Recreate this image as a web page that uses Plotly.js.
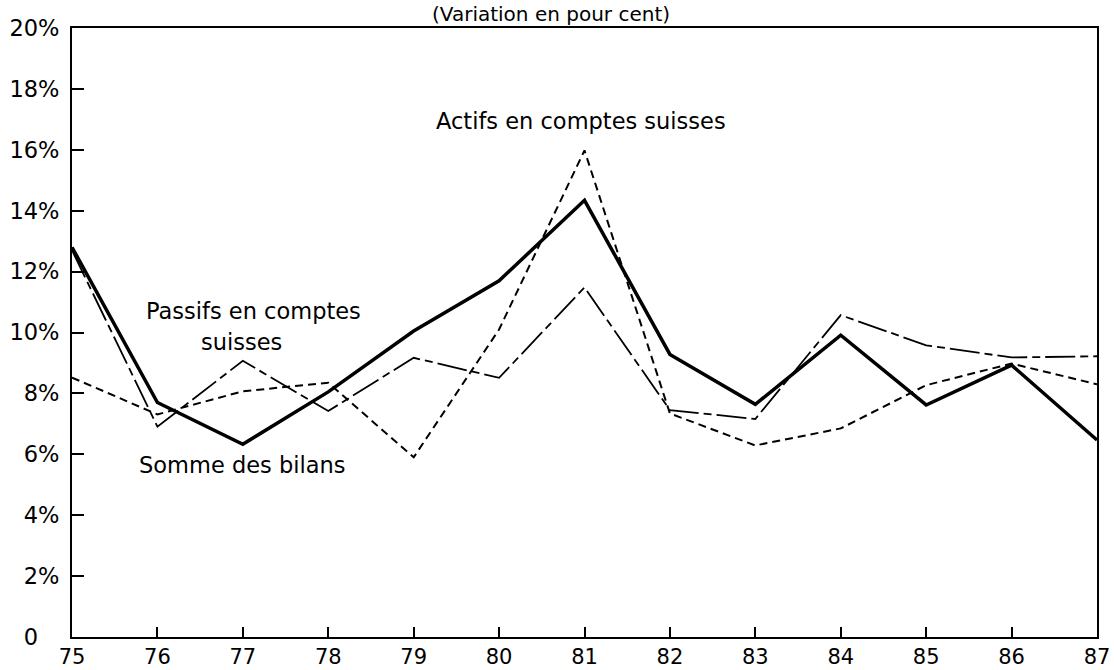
<!DOCTYPE html>
<html>
<head>
<meta charset="utf-8">
<script src="https://cdn.plot.ly/plotly-3.0.1.min.js"></script>
<style>
html,body{margin:0;padding:0;background:#fff;}
#chart{width:1114px;height:670px;}
</style>
</head>
<body>
<div id="chart"></div>
<script>
const years = [75, 76, 77, 78, 79, 80, 81, 82, 83, 84, 85, 86, 87];
const yearLabels = ["75","76","77","78","79","80","81","82","83","84","85","86","87"];
const sommeBilans = [12.8, 7.7, 6.33, 8.05, 10.05, 11.7, 14.34, 9.28, 7.64, 9.91, 7.62, 8.93, 6.47];
const actifsSuisses = [8.52, 7.31, 8.07, 8.35, 5.9, 10.1, 15.98, 7.34, 6.29, 6.85, 8.27, 8.98, 8.3];
const passifsSuisses = [12.7, 6.91, 9.07, 7.42, 9.17, 8.51, 11.48, 7.45, 7.16, 10.57, 9.58, 9.18, 9.22];
const yTickVals = [0, 2, 4, 6, 8, 10, 12, 14, 16, 18, 20];
const yTickText = ["0<span style='color:rgba(0,0,0,0)'>%</span>", "2%", "4%", "6%", "8%", "10%", "12%", "14%", "16%", "18%", "20%"];

const font = "DejaVu Sans, sans-serif";
const fs = 22.5;

const traces = [
  {x: years, y: passifsSuisses, type: "scatter", mode: "lines", name: "Passifs en comptes suisses",
   line: {color: "#000", width: 1.8, dash: "30px,5px,8px,5px"}},
  {x: years, y: actifsSuisses, type: "scatter", mode: "lines", name: "Actifs en comptes suisses",
   line: {color: "#000", width: 2, dash: "8px,5px"}},
  {x: years, y: sommeBilans, type: "scatter", mode: "lines", name: "Somme des bilans",
   line: {color: "#000", width: 3.5}}
];

function note(x, y, text, ref, size) {
  return {xref: ref || "x", yref: ref || "y", x: x, y: y, text: text, showarrow: false,
          font: {family: font, size: size || fs, color: "#000"}, xanchor: "center", yanchor: "middle"};
}

const layout = {
  width: 1114, height: 670,
  margin: {l: 72, r: 17, t: 28, b: 33},
  paper_bgcolor: "#fff", plot_bgcolor: "#fff",
  showlegend: false,
  font: {family: font, color: "#000", size: fs},
  xaxis: {
    range: [75, 87], tickmode: "array", tickvals: years, ticktext: yearLabels,
    ticks: "inside", ticklen: 10, tickwidth: 2, tickcolor: "#000",
    showline: true, linewidth: 2, linecolor: "#000", mirror: true,
    showgrid: false, zeroline: false, ticklabelstandoff: 0,
    tickfont: {family: font, size: 21, color: "#000"}
  },
  yaxis: {
    range: [0, 20], tickmode: "array", tickvals: yTickVals, ticktext: yTickText,
    ticks: "inside", ticklen: 12, tickwidth: 2, tickcolor: "#000",
    showline: true, linewidth: 2, linecolor: "#000", mirror: true,
    showgrid: false, zeroline: false, ticklabelstandoff: 6,
    tickfont: {family: font, size: fs, color: "#000"}
  },
  annotations: [
    note(0.467, 1.0225, "(Variation en pour cent)", "paper", 20),
    note(80.96, 16.95, "Actifs en comptes suisses"),
    note(77.13, 10.69, "Passifs en comptes"),
    note(76.99, 9.70, "suisses"),
    note(76.99, 5.64, "Somme des bilans")
  ]
};

Plotly.newPlot("chart", traces, layout, {displayModeBar: false, staticPlot: true});
</script>
</body>
</html>
